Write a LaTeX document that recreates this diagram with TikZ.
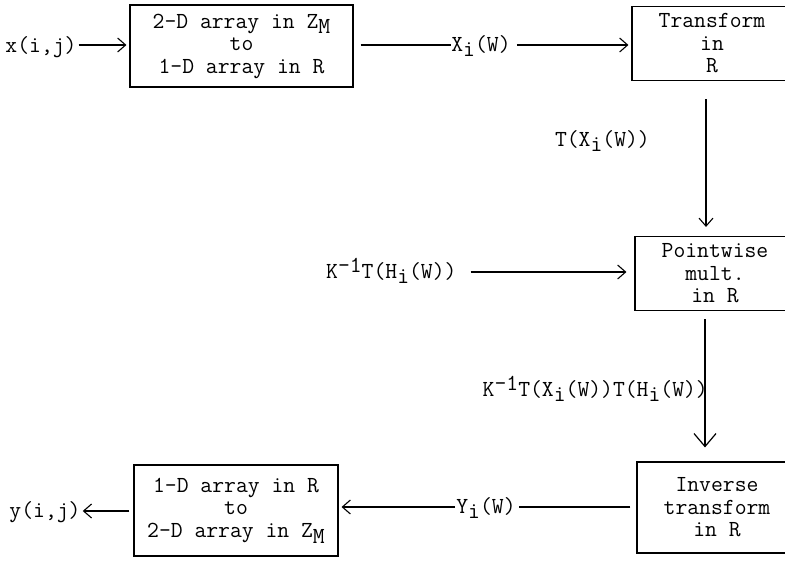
\documentclass[tikz,border=0pt]{standalone}
\usetikzlibrary{arrows.meta,calc}
\newcommand\mysb[1]{\raisebox{-0.6ex}{#1}}
\newcommand\mysp[1]{\raisebox{0.6ex}{#1}}
\begin{document}
\begin{tikzpicture}[x=1pt,y=-1pt,
  every node/.style={font=\ttfamily\fontsize{23}{22.5}\selectfont, inner sep=0pt},
  blk/.style={draw, line width=1.1pt, align=center},
  wire/.style={line width=1.1pt},
  arr/.style={wire, -{Straight Barb[length=8pt,width=14pt,line width=1.1pt]}},
  arrbig/.style={wire, -{Straight Barb[length=13pt,width=22pt,line width=1.2pt]}}]
\useasboundingbox (0,0) rectangle (785,562);
\fill[white] (0,0) rectangle (785,562);
\clip (0,0) rectangle (785,562);
% boxes
\node[blk, minimum width=223pt, minimum height=82pt] (b1) at (241.5,46) {2-D array in Z\mysb{M}\\to\\1-D array in R};
\node[blk, minimum width=160pt, minimum height=74pt] (b2) at (712,43.5) {Transform\\in\\R};
\node[blk, minimum width=160pt, minimum height=74pt] (b3) at (715,273.5) {Pointwise\\mult.\\in R};
\node[blk, minimum width=160pt, minimum height=91pt] (b4) at (717,507.5) {Inverse\\transform\\in R};
\node[blk, minimum width=204pt, minimum height=91pt] (b5) at (236,510.5) {1-D array in R\\to\\2-D array in Z\mysb{M}};
% labels
\node[anchor=base] (xin) at (41,52) {x(i,j)};
\node[anchor=base] (lx) at (481,51) {X\mysb{i}(W)};
\node[anchor=base east] (lt) at (650,146) {T(X\mysb{i}(W))};
\node[anchor=base west] (lk) at (326,278) {K\mysp{-1}T(H\mysb{i}(W))};
\node[anchor=base east] (lkk) at (708,396) {K\mysp{-1}T(X\mysb{i}(W))T(H\mysb{i}(W))};
\node[anchor=base] (ly) at (486,513) {Y\mysb{i}(W)};
\node[anchor=base] (yout) at (45,517) {y(i,j)};
\coordinate (v1) at (706,0);
\coordinate (v2) at (705,0);
\coordinate (r1) at (0,45);
\coordinate (r2) at (0,272);
\coordinate (r3) at (0,507);
\coordinate (r4) at (0,511);
% connectors
\draw[arr, shorten <=2pt, shorten >=3pt] (xin.east |- r1) -- (b1.west |- r1);
\draw[wire, shorten <=7pt] (b1.east |- r1) -- (lx.west |- r1);
\draw[arr, shorten <=6pt, shorten >=3pt] (lx.east |- r1) -- (b2.west |- r1);
\draw[arr, shorten <=18pt, shorten >=9pt] (b2.south -| v1) -- (b3.north -| v1);
\draw[arr, shorten <=14pt, shorten >=8pt] (lk.east |- r2) -- (b3.west |- r2);
\draw[arrbig, shorten <=8pt, shorten >=14pt] (b3.south -| v2) -- (b4.north -| v2);
\draw[wire, shorten <=6pt, shorten >=3pt] (b4.west |- r3) -- (ly.east |- r3);
\draw[arr, shorten <=1pt, shorten >=3pt] (ly.west |- r3) -- (b5.east |- r3);
\draw[arr, shorten <=4pt, shorten >=2pt] (b5.west |- r4) -- (yout.east |- r4);
\end{tikzpicture}
\end{document}
